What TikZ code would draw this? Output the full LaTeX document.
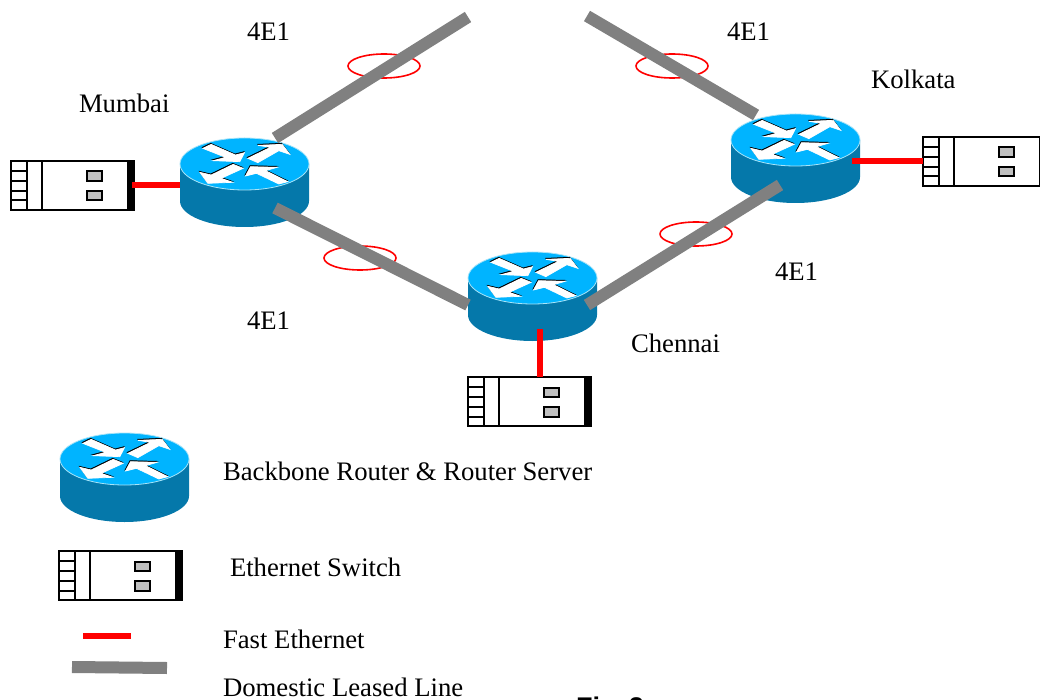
\documentclass[tikz,border=0pt]{standalone}
\usepackage{fontspec}
\setmainfont{Liberation Serif}
\newfontfamily\figfont{Liberation Sans}
\definecolor{rtop}{HTML}{00B4FF}
\definecolor{rside}{HTML}{0578AA}
\definecolor{redge}{HTML}{A8E4F8}
\definecolor{leased}{HTML}{808080}
\definecolor{portg}{HTML}{C0C0C0}
\tikzset{
  routerbox/.style={minimum width=129pt,minimum height=89pt,inner sep=0pt,outer sep=0pt},
  switchbox/.style={draw=black,line width=2pt,fill=white,minimum width=117pt,minimum height=49pt,inner sep=0pt,outer sep=0pt},
  lbl/.style={anchor=base west,inner sep=0pt,outer sep=0pt,font=\fontsize{26.7pt}{28pt}\selectfont},
  leasedline/.style={draw=leased,line width=12pt},
  fastline/.style={draw=red,line width=6pt},
  ring/.style={draw=red,line width=1.6pt},
  arrowwhite/.style={fill=white,draw=white,line width=.7pt},
  arrowblack/.style={fill=black,draw=black,line width=.7pt}
}
\newcommand{\arrowset}[1]{%
  \filldraw[#1] (-125,-47)--(-100,-59)--(-27,-27)--(0,-34)--(-14,-7)--(-94,-10)--(-57,-20)--cycle;
  \filldraw[#1] (10,-17)--(78,-50)--(40,-56)--(113,-59)--(136,-29)--(103,-40)--(40,-4)--cycle;
  \filldraw[#1] (-134,25)--(-110,58)--(-35,55)--(-70,43)--(-4,13)--(-34,1)--(-100,33)--cycle;
  \filldraw[#1] (3,36)--(18,8)--(98,10)--(63,20)--(130,53)--(103,60)--(36,28)--cycle;}
\newcommand{\routerat}[3]{%
  \node[routerbox] (#1) at (#2,#3+18.5) {};
  \begin{scope}[shift={(#2,#3)}]
    \fill[rside] (-64.5,0)--(-64.5,37) arc[start angle=180,end angle=0,x radius=64.5,y radius=26]--(64.5,0)--cycle;
    \draw[fill=rtop,draw=redge,line width=.8pt] (0,0) ellipse[x radius=64.5,y radius=26];
  \end{scope}
  \begin{scope}[shift={(#2,#3)},x=.3333pt,y=-.3333pt]
    \begin{scope}[shift={(-1.5,-3)}]\arrowset{arrowblack}\end{scope}
    \arrowset{arrowwhite}
  \end{scope}}
\newcommand{\switchat}[3]{%
  \node[switchbox] (#1) at (#2+58.5,#3+24.5) {};
  \begin{scope}[shift={(#2,#3)},line width=2pt]
    \fill[black] (117,-1) rectangle (124,50);
    \draw (15.5,0)--(15.5,49);
    \draw (30.5,0)--(30.5,49);
    \foreach \yy in {10,20,30,39.5} \draw (0,\yy)--(15.5,\yy);
    \draw[fill=portg] (75.5,10.5) rectangle (91,20);
    \draw[fill=portg] (75.5,30) rectangle (91,39.5);
  \end{scope}}
\begin{document}
\begin{tikzpicture}[x=1pt,y=-1pt]
\useasboundingbox (0,0) rectangle (1040,700);
\clip (0,0) rectangle (1040,700);
\fill[white] (0,0) rectangle (1040,700);
% routers and switches
\routerat{mumbai}{244.5}{164}
\routerat{chennai}{532.5}{278}
\routerat{kolkata}{795.5}{140}
\routerat{legendrouter}{124.5}{459}
\switchat{swm}{11}{161}
\switchat{swc}{468}{377}
\switchat{swk}{923}{137}
\switchat{swl}{59}{551}
% rings
\draw[ring] (384,66) ellipse[x radius=36,y radius=12];
\draw[ring] (672,66) ellipse[x radius=36,y radius=12];
\draw[ring] (360,258) ellipse[x radius=36,y radius=12];
\draw[ring] (696,234) ellipse[x radius=36,y radius=12];
% free ends and attachment points
\coordinate (topl) at (468,17);
\coordinate (topr) at (587,16);
\coordinate (mne) at (275,138);
\coordinate (mse) at (275,208);
\coordinate (cw) at (468,305);
\coordinate (ce) at (587,305);
\coordinate (kw) at (756,115);
\coordinate (ksw) at (780,185);
\coordinate (kred) at (852,161);
\coordinate (cred) at (539.5,329);
\coordinate (lr1) at (83,636);
\coordinate (lr2) at (131,636);
\coordinate (lg1) at (72,667);
\coordinate (lg2) at (167,668);
% connectors
\draw[leasedline] (mne)--(topl);
\draw[leasedline] (topr)--(kw);
\draw[leasedline] (mse)--(cw);
\draw[leasedline] (ce)--(ksw);
\draw[fastline] (132,185)--(mumbai.west |- 0,185);
\draw[fastline] (kred)--(swk.west |- kred);
\draw[fastline] (cred)--(cred |- swc.north);
\draw[fastline] (lr1)--(lr2);
\draw[draw=leased,line width=12pt] (lg1)--(lg2);
% labels
\node[lbl] (l1) at (247,41) {4E1};
\node[lbl] (l2) at (727,41) {4E1};
\node[lbl] (l3) at (775,280) {4E1};
\node[lbl] (l4) at (247,329) {4E1};
\node[lbl] (mu) at (79,113) {Mumbai};
\node[lbl] (ko) at (871,89) {Kolkata};
\node[lbl] (ch) at (631,352) {Chennai};
\node[lbl] (t1) at (223,480) {Backbone Router \& Router Server};
\node[lbl] (t2) at (230,576) {Ethernet Switch};
\node[lbl] (t3) at (223,648) {Fast Ethernet};
\node[lbl] (t4) at (223,696) {Domestic Leased Line};
\node[anchor=base west,inner sep=0pt,font=\figfont\bfseries\fontsize{27pt}{29pt}\selectfont] (fig) at (576,716) {Fig\hspace{.45em}2};
\end{tikzpicture}
\end{document}
